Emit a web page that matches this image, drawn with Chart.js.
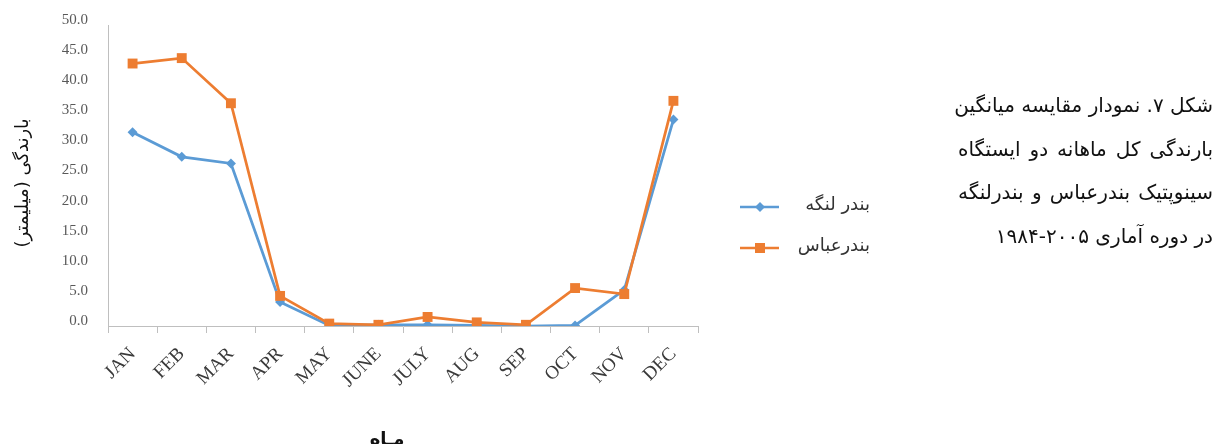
<!DOCTYPE html>
<html>
<head>
<meta charset="utf-8">
<script src="https://cdn.jsdelivr.net/npm/chart.js@4.4.0/dist/chart.umd.min.js"></script>
<style>
  html, body { margin: 0; padding: 0; background: #fff; }
  #wrap { position: relative; width: 1216px; height: 444px; }
  #caption {
    position: absolute; right: 3px; top: 84px; width: 255px;
    font-family: "DejaVu Sans", sans-serif; font-size: 20px; color: #111;
    direction: rtl;
  }
  #caption div { height: 43.5px; line-height: 43.5px; text-align: justify; text-align-last: justify; white-space: nowrap; }
  #caption div.last { text-align-last: right; }
</style>
</head>
<body>
<div id="wrap">
  <canvas id="chart" width="1216" height="444"></canvas>
  <div id="caption">
    <div>شکل ۷. نمودار مقایسه میانگین</div>
    <div>بارندگی کل ماهانه دو ایستگاه</div>
    <div>سینوپتیک بندرعباس و بندرلنگه</div>
    <div class="last">در دوره آماری ۲۰۰۵-۱۹۸۴</div>
  </div>
</div>
<script>
// months on the x axis
const months = ['JAN', 'FEB', 'MAR', 'APR', 'MAY', 'JUNE', 'JULY', 'AUG', 'SEP', 'OCT', 'NOV', 'DEC'];
// mean monthly rainfall (mm)
const bandarLengeh = [32.2, 28.1, 27.0, 4.0, 0.1, 0.2, 0.2, 0.1, 0.0, 0.1, 6.0, 34.3];
const bandarAbbas = [43.6, 44.5, 37.0, 5.0, 0.4, 0.2, 1.5, 0.6, 0.2, 6.3, 5.3, 37.4];

const blue = '#5B9BD5';
const orange = '#ED7D31';
const axisGrey = '#BFBFBF';
const tickGrey = '#595959';

// legend drawn by hand, line with marker on the left and label on the right
// (the two axis titles too, they sit off the axis centres)
const sideLegend = {
    id: 'sideLegend',
    afterDraw(chart) {
        const ctx = chart.ctx;
        const items = [
            { label: 'بندر لنگه', color: blue, shape: 'diamond', y: 207 },
            { label: 'بندرعباس', color: orange, shape: 'square', y: 248 }
        ];
        ctx.save();
        items.forEach(item => {
            ctx.strokeStyle = item.color;
            ctx.lineWidth = 2.5;
            ctx.beginPath();
            ctx.moveTo(740, item.y);
            ctx.lineTo(779, item.y);
            ctx.stroke();
            ctx.fillStyle = item.color;
            ctx.beginPath();
            if (item.shape === 'diamond') {
                ctx.moveTo(760 - 5, item.y);
                ctx.lineTo(760, item.y - 5);
                ctx.lineTo(760 + 5, item.y);
                ctx.lineTo(760, item.y + 5);
                ctx.closePath();
            } else {
                ctx.rect(755, item.y - 5, 10, 10);
            }
            ctx.fill();
            ctx.fillStyle = '#333';
            ctx.font = '18px "DejaVu Sans", sans-serif';
            ctx.textAlign = 'right';
            ctx.textBaseline = 'middle';
            ctx.direction = 'rtl';
            ctx.fillText(item.label, 870, item.y - 2);
        });

        ctx.fillStyle = '#111';
        ctx.textAlign = 'center';
        ctx.textBaseline = 'middle';
        ctx.font = 'bold 18px "DejaVu Sans", sans-serif';
        ctx.fillText('مـاه', 387, 440);

        ctx.font = '18px "DejaVu Sans", sans-serif';
        ctx.translate(23, 183);
        ctx.rotate(-Math.PI / 2);
        ctx.fillText('بارندگی (میلیمتر)', 0, 0);
        ctx.restore();
    }
};

new Chart(document.getElementById('chart').getContext('2d'), {
    type: 'line',
    data: {
        labels: months,
        datasets: [
            {
                label: 'بندر لنگه',
                data: bandarLengeh,
                borderColor: blue,
                backgroundColor: blue,
                borderWidth: 2.75,
                pointStyle: 'rectRot',
                pointRadius: 5,
                pointBorderWidth: 0,
                order: 1
            },
            {
                label: 'بندرعباس',
                data: bandarAbbas,
                borderColor: orange,
                backgroundColor: orange,
                borderWidth: 2.75,
                pointStyle: 'rect',
                pointRadius: 7,
                pointBorderWidth: 0,
                order: 0
            }
        ]
    },
    options: {
        responsive: false,
        animation: false,
        events: [],
        layout: { padding: { top: 25, right: 518, left: 0, bottom: 0 } },
        plugins: {
            legend: { display: false },
            tooltip: { enabled: false }
        },
        scales: {
            x: {
                offset: true,
                grid: { display: true, drawOnChartArea: false, drawTicks: true, tickLength: 7, offset: true, color: axisGrey },
                border: { display: true, color: axisGrey, width: 1 },
                ticks: {
                    color: '#3a3a3a',
                    font: { family: '"Liberation Serif", serif', size: 19 },
                    maxRotation: 45,
                    minRotation: 45,
                    padding: 10,
                    autoSkip: false
                },
                afterFit(scale) { scale.height = 118; }
            },
            y: {
                min: 0,
                max: 50,
                grid: { display: false, drawTicks: false },
                border: { display: true, color: axisGrey, width: 1 },
                ticks: {
                    stepSize: 5,
                    color: tickGrey,
                    padding: 20,
                    labelOffset: -5,
                    font: { family: '"Liberation Serif", serif', size: 15 },
                    callback: v => v.toFixed(1)
                },
                afterFit(scale) {
                    scale.width = 108;
                    // tick padding should not push the plot top down
                    scale.paddingTop = 0;
                    scale.paddingBottom = 0;
                }
            }
        }
    },
    plugins: [sideLegend]
});
</script>
</body>
</html>
